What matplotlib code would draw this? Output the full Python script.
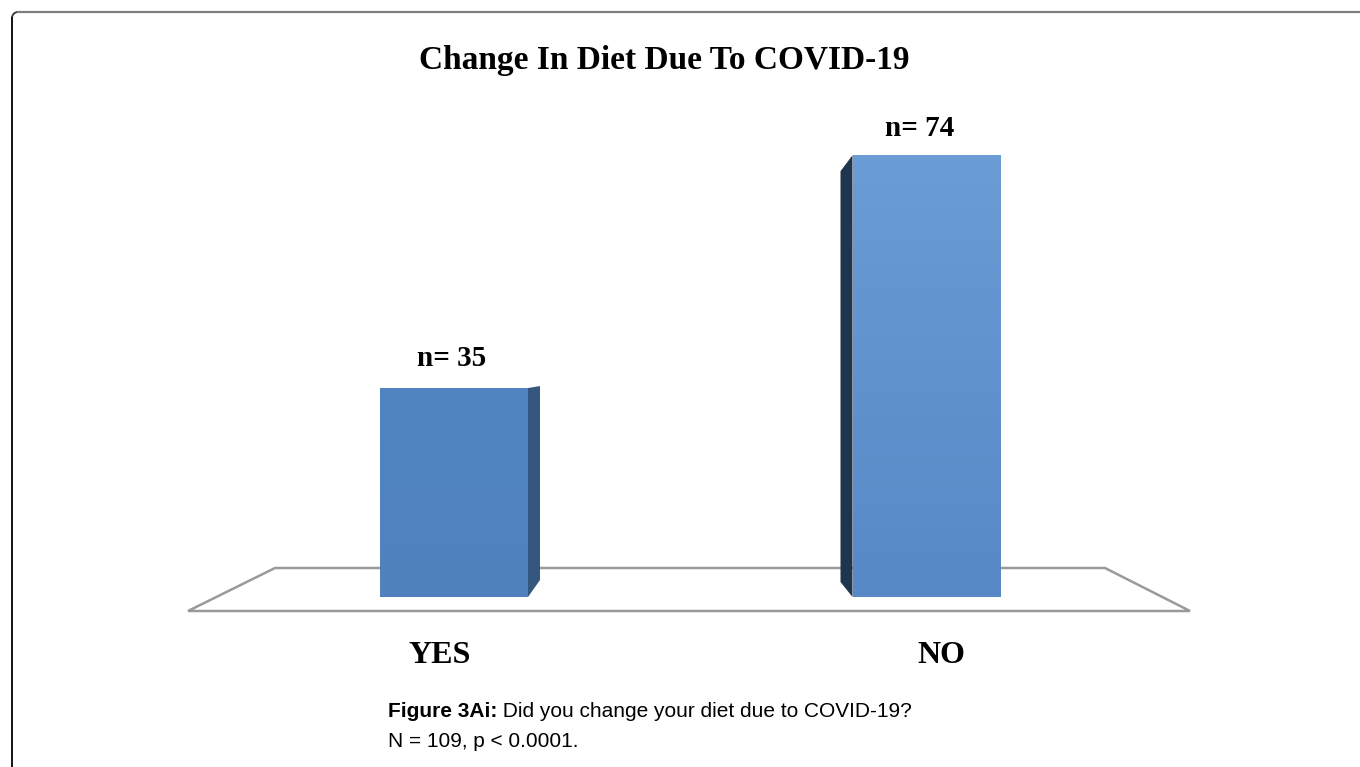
import numpy as np
import matplotlib
matplotlib.use("Agg")
import matplotlib.pyplot as plt
from matplotlib.patches import Polygon, Arc
from matplotlib.lines import Line2D
from matplotlib.colors import LinearSegmentedColormap

# survey answers
categories = ["YES", "NO"]
counts = [35, 74]
value_labels = ["n= 35", "n= 74"]
title = "Change In Diet Due To COVID-19"
caption_bold = "Figure 3Ai:"
caption_rest = " Did you change your diet due to COVID-19?"
caption_line2 = "N = 109, p < 0.0001."

W, H = 1360, 767
DPI = 100
SERIF = "Liberation Serif"
SANS = "Liberation Sans"

# pixel geometry of the plot area: category spacing and value scale
X0_PX = 454.0       # centre of first category
STEP_PX = 472.5     # distance between categories
BASE_PX = 597.0     # y pixel of value 0
UNIT_PX = 5.97      # pixels per count
BAR_W = 148 / STEP_PX
DEPTH = 12 / STEP_PX

front_cols = ["#4f82be", "#5f93cd"]
side_cols = ["#34577f", "#1f344d"]


def fx(px):
    return px / W


def fy(py):
    return 1 - py / H


def to_data(px, py):
    return (px - X0_PX) / STEP_PX, (BASE_PX - py) / UNIT_PX


fig = plt.figure(figsize=(W / DPI, H / DPI), dpi=DPI)
fig.patch.set_facecolor("white")

# frame: grey top rule, black left rule, rounded corner
fig.add_artist(Line2D([fx(18), fx(W)], [fy(12), fy(12)], color="#7f7f7f", lw=1.6))
fig.add_artist(Line2D([fx(12), fx(12)], [fy(18), fy(H)], color="black", lw=1.3))
fig.add_artist(Arc((fx(18), fy(18)), 12 / W, 12 / H, theta1=90, theta2=180,
                   transform=fig.transFigure, color="#333333", lw=1.3))

left = X0_PX - 0.5 * STEP_PX
bottom = BASE_PX
ax = fig.add_axes([fx(left), fy(bottom), 2 * STEP_PX / W, 80 * UNIT_PX / H])
ax.set_xlim(-0.5, 1.5)
ax.set_ylim(0, 80)
ax.set_axis_off()

# floor
floor_px = [(275, 568), (1105, 568), (1190, 611), (188, 611)]
floor = Polygon([to_data(*p) for p in floor_px], closed=True, facecolor="none",
                edgecolor="#9a9a9a", lw=1.8, clip_on=False, zorder=1)
ax.add_patch(floor)

x = np.arange(len(categories))
bars = ax.bar(x, counts, width=BAR_W, color=front_cols, edgecolor="none", zorder=3)

# soft vertical shading on the fronts
for i, b in enumerate(bars):
    c_top = "#6a9dd5" if i == 1 else "#5085c2"
    c_bot = "#5689c6" if i == 1 else "#4f81bd"
    cmap = LinearSegmentedColormap.from_list("face", [c_bot, c_top])
    grad = np.linspace(0, 1, 64).reshape(-1, 1)
    im = ax.imshow(grad, cmap=cmap, aspect="auto", origin="lower",
                   extent=[b.get_x(), b.get_x() + b.get_width(), 0, b.get_height()],
                   zorder=3.5)
    im.set_clip_path(b)

ax.set_xlim(-0.5, 1.5)
ax.set_ylim(0, 80)

# side faces: YES shows its right side, NO its left side
for i, v in enumerate(counts):
    if i == 0:
        xe = x[i] + BAR_W / 2
        pts = [(xe, 0), (xe, v), (xe + DEPTH, v + 2 / UNIT_PX),
               (xe + DEPTH, 17 / UNIT_PX)]
    else:
        xe = x[i] - BAR_W / 2
        pts = [(xe, 0), (xe, v), (xe - DEPTH, v - 16 / UNIT_PX),
               (xe - DEPTH, 15 / UNIT_PX)]
    ax.add_patch(Polygon(pts, closed=True, facecolor=side_cols[i],
                         edgecolor="none", zorder=3))

# value labels above the bars
label_dy = [22, 19]
for i, v in enumerate(counts):
    ax.annotate(value_labels[i], (x[i], v), xytext=(-2 if i == 0 else -7, label_dy[i]),
                textcoords="offset pixels", ha="center", va="baseline",
                fontsize=21, fontweight="bold", family=SERIF, color="black")

# category labels
cat_dx = [-14, 15]
for i, c in enumerate(categories):
    ax.annotate(c, (x[i], 0), xytext=(cat_dx[i], -(663 - BASE_PX)),
                textcoords="offset pixels", ha="center", va="baseline",
                fontsize=23, fontweight="bold", family=SERIF, color="black",
                annotation_clip=False)

fig.text(fx(664), fy(69), title, ha="center", va="baseline",
         fontsize=24, fontweight="bold", family=SERIF)

t1 = fig.text(fx(388), fy(717), caption_bold, ha="left", va="baseline",
              fontsize=15, fontweight="bold", family=SANS)
fig.canvas.draw()
bb = t1.get_window_extent()
fig.text(bb.x1 / W, fy(717), caption_rest, ha="left", va="baseline",
         fontsize=15, family=SANS)
fig.text(fx(388), fy(747), caption_line2, ha="left", va="baseline",
         fontsize=15, family=SANS)

fig.savefig("out.png", dpi=DPI, facecolor="white")
